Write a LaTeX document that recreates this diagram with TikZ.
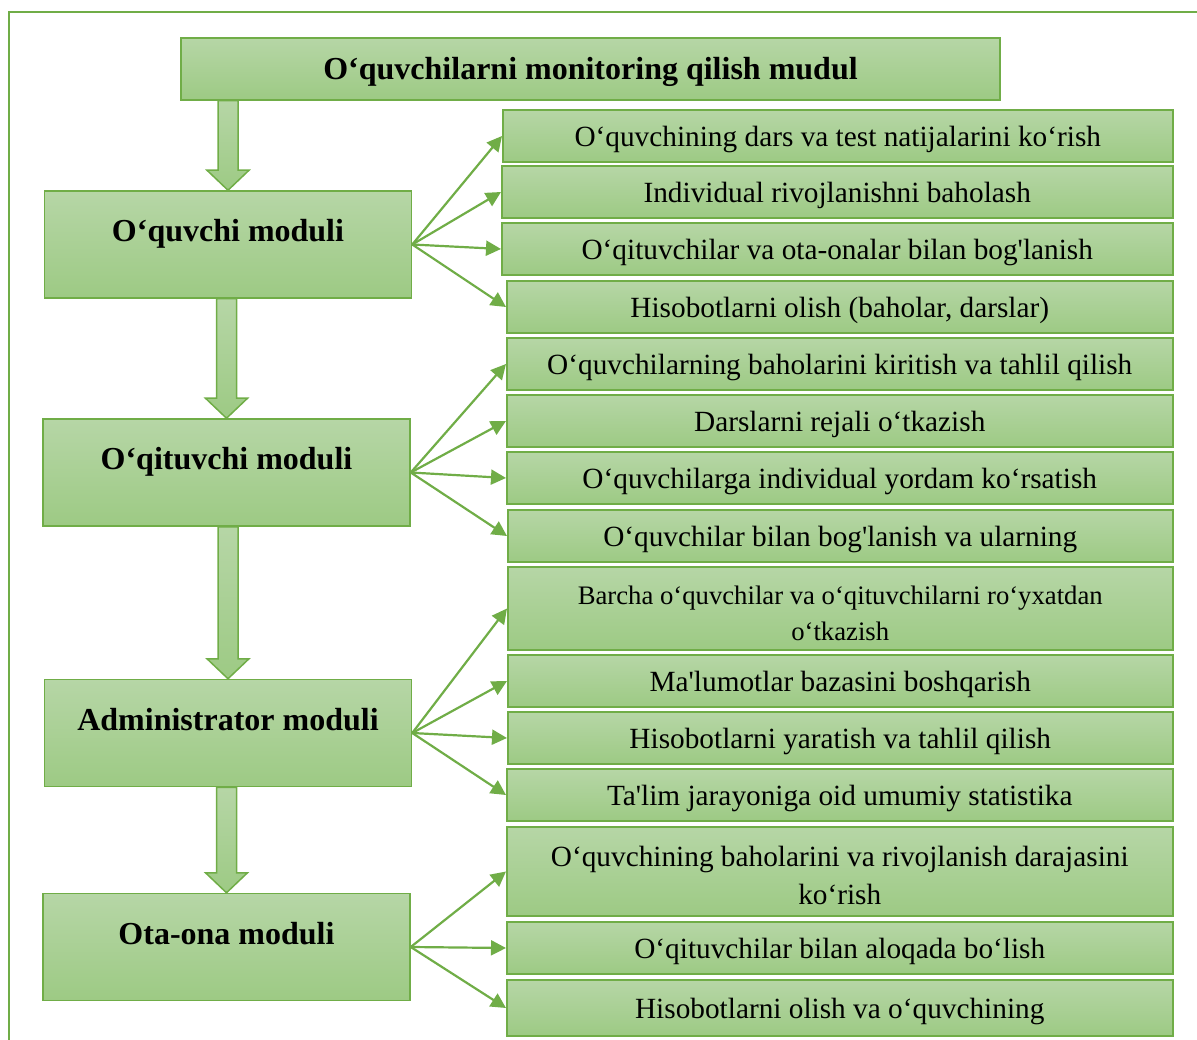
\documentclass[tikz,border=0pt]{standalone}
\usepackage{fontspec}
\setmainfont{Liberation Serif}[Ligatures=TeXOff]
\usetikzlibrary{arrows.meta,calc}

\definecolor{gline}{RGB}{112,173,71}
\definecolor{gtop}{RGB}{182,214,166}
\definecolor{gbot}{RGB}{157,202,132}

\tikzset{
  gbox/.style={draw=gline, line width=1.5pt, top color=gtop, bottom color=gbot, inner sep=0pt},
  titlebox/.style={gbox, minimum width=819pt, minimum height=62pt, text depth=2pt, font=\fontsize{32}{36}\selectfont\bfseries},
  modbox/.style={gbox, minimum width=367pt, minimum height=107pt, text height=24pt, text depth=30pt, font=\fontsize{32}{36}\selectfont\bfseries},
  itembox/.style={gbox, anchor=west, minimum height=52pt, align=center, text depth=0pt, font=\fontsize{29.3}{38}\selectfont},
  link/.style={draw=gline, line width=2.2pt, -{Triangle[length=15pt,width=15pt]}},
  blockarrow/.style={draw=gline, line width=1.5pt, top color=gtop, bottom color=gbot}
}
\newcommand{\lowstrut}{\rule{0pt}{27pt}}

\begin{document}
\begin{tikzpicture}[x=1pt,y=-1pt]
	\useasboundingbox (0,0) rectangle (1197,1040);
	% frame
	\draw[gline, line width=1.5pt] (9,1040) -- (9,12) -- (1197,12);

	\node[titlebox] (title) at (590.5,69) {O‘quvchilarni monitoring qilish mudul};

	\node[modbox] (oquvchi) at (228,244.5) {O‘quvchi moduli};
	\node[modbox] (oqituvchi) at (226.5,472.5) {O‘qituvchi moduli};
	\node[modbox] (admin) at (228,733) {Administrator moduli};
	\node[modbox] (otaona) at (226.5,947) {Ota-ona moduli};

	% o'quvchi
	\node[itembox, minimum width=670pt] (q1) at (502,136) {O‘quvchining dars va test natijalarini ko‘rish};
	\node[itembox, minimum width=671pt] (q2) at (501,192) {Individual rivojlanishni baholash};
	\node[itembox, minimum width=671pt] (q3) at (501,249) {O‘qituvchilar va ota-onalar bilan bog'lanish};
	\node[itembox, minimum width=666pt] (q4) at (506,307) {Hisobotlarni olish (baholar, darslar)};
	% o'qituvchi
	\node[itembox, minimum width=666pt] (t1) at (506,364) {O‘quvchilarning baholarini kiritish va tahlil qilish};
	\node[itembox, minimum width=666pt] (t2) at (506,421) {Darslarni rejali o‘tkazish};
	\node[itembox, minimum width=666pt] (t3) at (506,478) {O‘quvchilarga individual yordam ko‘rsatish};
	\node[itembox, minimum width=665pt] (t4) at (507,536) {O‘quvchilar bilan bog'lanish va ularning};
	% administrator
	\node[itembox, minimum width=665pt, minimum height=83pt, font=\fontsize{26.7}{36}\selectfont] (a1) at (507,608.5) {\lowstrut Barcha o‘quvchilar va o‘qituvchilarni ro‘yxatdan\\o‘tkazish};
	\node[itembox, minimum width=665pt] (a2) at (507,681) {Ma'lumotlar bazasini boshqarish};
	\node[itembox, minimum width=665pt] (a3) at (507,738) {Hisobotlarni yaratish va tahlil qilish};
	\node[itembox, minimum width=666pt] (a4) at (506,795) {Ta'lim jarayoniga oid umumiy statistika};
	% ota-ona
	\node[itembox, minimum width=666pt, minimum height=89pt] (p1) at (506,871.5) {\lowstrut O‘quvchining baholarini va rivojlanish darajasini\\ko‘rish};
	\node[itembox, minimum width=666pt] (p2) at (506,948) {O‘qituvchilar bilan aloqada bo‘lish};
	\node[itembox, minimum width=666pt, minimum height=56pt] (p3) at (506,1008) {Hisobotlarni olish va o‘quvchining};

	% block arrows
	\foreach \a/\b in {title/oquvchi, oquvchi/oqituvchi, oqituvchi/admin, admin/otaona} {
		\path (\b.north |- \a.south) coordinate (s) (\b.north) coordinate (e);
		\shade[blockarrow] ($(s)+(-10,0)$) -- ($(e)+(-10,-20)$) -- ($(e)+(-21,-20)$) -- (e)
			-- ($(e)+(21,-20)$) -- ($(e)+(10,-20)$) -- ($(s)+(10,0)$) -- cycle;
	}

	% links
	\foreach \t in {q1,q2,q3,q4} \draw[link] (oquvchi.east) -- (\t.west);
	\foreach \t in {t1,t2,t3,t4} \draw[link] (oqituvchi.east) -- (\t.west);
	\foreach \t in {a1,a2,a3,a4} \draw[link] (admin.east) -- (\t.west);
	\foreach \t in {p1,p2,p3} \draw[link] (otaona.east) -- (\t.west);
\end{tikzpicture}
\end{document}
